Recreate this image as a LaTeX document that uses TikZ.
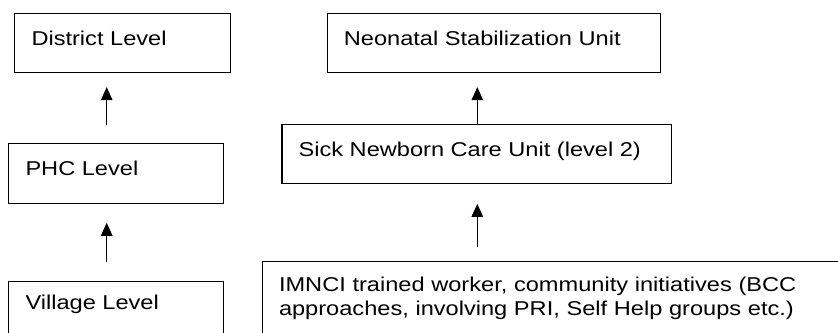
\documentclass[tikz,border=0pt]{standalone}
\usepackage{fontspec}
\setmainfont{Liberation Sans}[FakeStretch=1.18]
\usetikzlibrary{arrows.meta}

\tikzset{
  box/.style={draw=black, line width=1.1pt, rectangle, anchor=north west,
    inner sep=0pt, minimum width=#1},
  boxtext/.style={anchor=base west, inner sep=0pt, align=left,
    font=\fontsize{20pt}{23.3pt}\selectfont},
  uparrow/.style={draw=black, line width=1.1pt,
    -{Triangle[length=13pt,width=11.5pt]}},
}

\begin{document}
\begin{tikzpicture}[x=1pt,y=-1pt]
  \useasboundingbox (0,0) rectangle (838,332);
  \clip (0,0) rectangle (838,332);

  % left column: district / PHC / village
  \node[box=215.4pt, minimum height=58.4pt] (district) at (14.3,13.3) {};
  \node[box=215pt, minimum height=59.4pt] (phc) at (8.3,143.3) {};
  \node[box=215pt, minimum height=80pt] (village) at (8.3,280.7) {};

  % right column: stabilization unit / SNCU / community level
  \node[box=333pt, minimum height=58.4pt] (nsu) at (326.7,13.3) {};
  \node[box=389.6pt, minimum height=59pt] (sncu) at (281.4,124.3) {};
  \node[box=600pt, minimum height=100pt] (imnci) at (262.3,261) {};

  % box captions
  \node[boxtext] (districtText) at ([shift={(17,31.7)}]district.north west) {District Level};
  \node[boxtext] (phcText) at ([shift={(17,31.7)}]phc.north west) {PHC Level};
  \node[boxtext] (villageText) at ([shift={(17,28.6)}]village.north west) {Village Level};
  \node[boxtext] (nsuText) at ([shift={(17,31.7)}]nsu.north west) {Neonatal Stabilization Unit};
  \node[boxtext] (sncuText) at ([shift={(17,31.7)}]sncu.north west) {Sick Newborn Care Unit (level 2)};
  \node[boxtext, text width=560pt] (imnciText) at ([shift={(16.5,30.7)}]imnci.north west)
    {IMNCI trained worker, community initiatives (BCC\\approaches, involving PRI, Self Help groups etc.)};

  % arrow columns
  \coordinate (colA) at (106.7,0);
  \coordinate (colB) at (477.3,0);

  % referral arrows
  \draw[uparrow, shorten <=18.3pt, shorten >=14.3pt] (phc.north -| colA) -- (district.south -| colA);
  \draw[uparrow, shorten <=19pt, shorten >=19pt] (village.north -| colA) -- (phc.south -| colA);
  \draw[uparrow, shorten >=14.3pt] (sncu.north -| colB) -- (nsu.south -| colB);
  \draw[uparrow, shorten <=14.3pt, shorten >=19.4pt] (imnci.north -| colB) -- (sncu.south -| colB);
\end{tikzpicture}
\end{document}
